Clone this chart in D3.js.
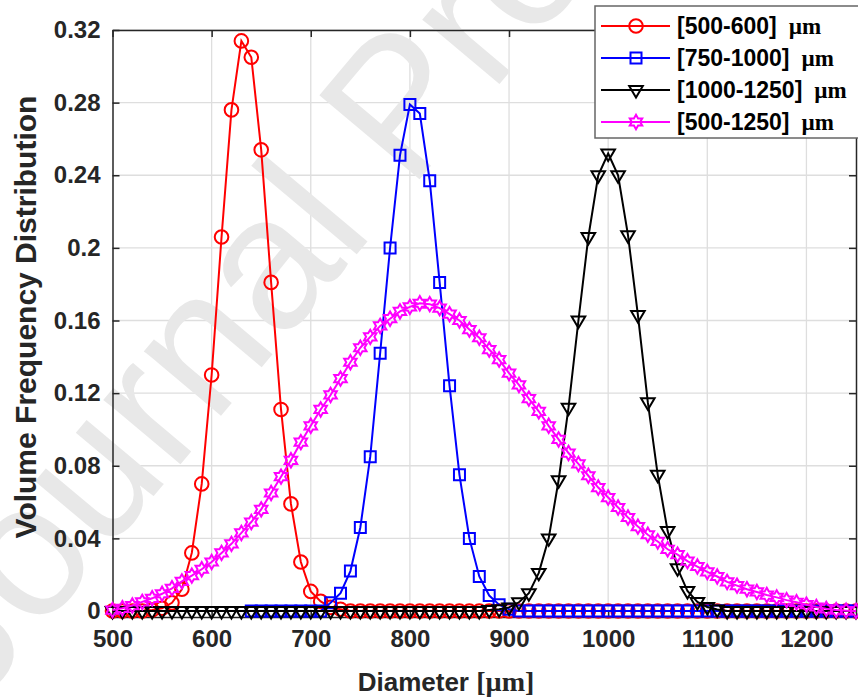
<!DOCTYPE html>
<html>
  <head>
    <meta charset="utf-8">
    <title>Volume frequency distribution</title>
    <script src="https://d3js.org/d3.v7.min.js"></script>
    <style>
      body { margin: 0; background: #fff; }
      svg text { font-family: "Liberation Sans", Arial, sans-serif; font-weight: bold; fill: #262626; }
      svg .serif { font-family: "Liberation Serif", "Times New Roman", serif; }
    </style>
  </head>
  <body>
    <svg id="chart" width="858" height="700"></svg>
    <script>
      // diameters (µm), one point every 10 µm
      const diameters = [
        500, 510, 520, 530, 540, 550, 560, 570, 580, 590,
        600, 610, 620, 630, 640, 650, 660, 670, 680, 690,
        700, 710, 720, 730, 740, 750, 760, 770, 780, 790,
        800, 810, 820, 830, 840, 850, 860, 870, 880, 890,
        900, 910, 920, 930, 940, 950, 960, 970, 980, 990,
        1000, 1010, 1020, 1030, 1040, 1050, 1060, 1070, 1080, 1090,
        1100, 1110, 1120, 1130, 1140, 1150, 1160, 1170, 1180, 1190,
        1200, 1210, 1220, 1230, 1240, 1250
      ];
      // [500-600] µm
      const red = [
        0, 0, 0, 0, 0.0005, 0.0015, 0.0045, 0.012, 0.032, 0.070,
        0.130, 0.206, 0.276, 0.314, 0.305, 0.254, 0.181, 0.111, 0.059, 0.027,
        0.0108, 0.0053, 0.002, 0.001, 0, 0, 0, 0, 0, 0,
        0, 0, 0, 0, 0, 0, 0, 0, 0, 0,
        0, 0, 0, 0, 0, 0, 0, 0, 0, 0,
        0, 0, 0, 0, 0, 0, 0, 0, 0, 0,
        0, 0, 0, 0, 0, 0, 0, 0, 0, 0,
        0, 0, 0, 0, 0, 0
      ];
      // [750-1000] µm (no points below 640)
      const blue = [
        null, null, null, null, null, null, null, null, null, null,
        null, null, null, null, 0, 0, 0, 0, 0, 0,
        0, 0, 0.0045, 0.0098, 0.022, 0.046, 0.085, 0.142, 0.200, 0.251,
        0.279, 0.274, 0.237, 0.181, 0.124, 0.075, 0.040, 0.019, 0.0085, 0.0035,
        0.001, 0, 0, 0, 0, 0, 0, 0, 0, 0,
        0, 0, 0, 0, 0, 0, 0, 0, 0, 0,
        0, 0, 0, 0, 0, 0, 0, 0, 0, 0,
        0, 0, 0, 0, 0, 0
      ];
      // [1000-1250] µm
      const black = [
        0, 0, 0, 0, 0, 0, 0, 0, 0, 0,
        0, 0, 0, 0, 0, 0, 0, 0, 0, 0,
        0, 0, 0, 0, 0, 0, 0, 0, 0, 0,
        0, 0, 0, 0, 0, 0, 0, 0, 0.0005, 0.001,
        0.002, 0.0048, 0.0098, 0.021, 0.040, 0.072, 0.112, 0.160, 0.206, 0.240,
        0.252, 0.240, 0.207, 0.163, 0.115, 0.075, 0.044, 0.0235, 0.011, 0.005,
        0.0022, 0.0008, 0, 0, 0, 0, 0, 0, 0, 0,
        0, 0, 0, 0, 0, 0
      ];
      // [500-1250] µm
      const magenta = [
        0.0005, 0.0015, 0.003, 0.005, 0.007, 0.0095, 0.0125, 0.0163, 0.0195, 0.023,
        0.027, 0.032, 0.037, 0.043, 0.049, 0.056, 0.065, 0.074, 0.083, 0.093,
        0.102, 0.111, 0.119, 0.128, 0.137, 0.145, 0.151, 0.157, 0.161, 0.165,
        0.1675, 0.1695, 0.169, 0.1668, 0.1635, 0.160, 0.155, 0.1505, 0.144, 0.1385,
        0.131, 0.1245, 0.117, 0.110, 0.102, 0.0945, 0.087, 0.081, 0.0745, 0.068,
        0.0625, 0.057, 0.0515, 0.0465, 0.042, 0.0383, 0.034, 0.031, 0.0275, 0.0245,
        0.0215, 0.019, 0.016, 0.014, 0.012, 0.0105, 0.0088, 0.0075, 0.006, 0.0048,
        0.0035, 0.0022, 0.0012, 0.0005, 0.0002, 0
      ];
      const seriesNames = ["[500-600]", "[750-1000]", "[1000-1250]", "[500-1250]"];
      const xTicks = [500, 600, 700, 800, 900, 1000, 1100, 1200];
      const yTicks = [0, 0.04, 0.08, 0.12, 0.16, 0.2, 0.24, 0.28, 0.32];
      const yTickLabels = ["0", "0.04", "0.08", "0.12", "0.16", "0.2", "0.24", "0.28", "0.32"];

      // marker shapes
      function hexagram(r) {
        let pts = [];
        for (let i = 0; i < 12; i++) {
          let a = -Math.PI / 2 + i * Math.PI / 6;
          let rr = i % 2 ? r / Math.sqrt(3) : r;
          pts.push([rr * Math.cos(a), rr * Math.sin(a)]);
        }
        return "M" + pts.join("L") + "Z";
      }
      const markers = {
        circle: "M6.8,0A6.8,6.8 0 1,1 -6.8,0A6.8,6.8 0 1,1 6.8,0Z",
        square: "M-5.5,-5.5H5.5V5.5H-5.5Z",
        triangle: "M-6.8,-4L6.8,-4L0,7.5Z",
        hexagram: hexagram(7.2)
      };
      const series = [
        { name: seriesNames[0], values: red, color: "#ff0000", marker: "circle" },
        { name: seriesNames[1], values: blue, color: "#0000ff", marker: "square" },
        { name: seriesNames[2], values: black, color: "#000000", marker: "triangle" },
        { name: seriesNames[3], values: magenta, color: "#ff00ff", marker: "hexagram" }
      ];

      const svg = d3.select("#chart");
      const margin = { left: 112.5, right: 856, top: 30, bottom: 617 };
      const x = d3.scaleLinear().domain([500, 1250]).range([margin.left, margin.right]);
      const y = d3.scaleLinear().domain([-0.0033, 0.32]).range([margin.bottom, margin.top]);

      svg.append("rect").attr("width", 858).attr("height", 700).attr("fill", "#fff");

      // grid
      const grid = svg.append("g").attr("stroke", "#dedede").attr("stroke-width", 1.3);
      grid.selectAll(".vx").data(xTicks.slice(1)).enter().append("line")
        .attr("x1", d => x(d)).attr("x2", d => x(d))
        .attr("y1", margin.top).attr("y2", margin.bottom);
      grid.selectAll(".hy").data(yTicks).enter().append("line")
        .attr("x1", margin.left).attr("x2", margin.right)
        .attr("y1", d => y(d)).attr("y2", d => y(d));

      // journal watermark
      svg.append("text")
        .attr("transform", "translate(-25,709) rotate(-50)")
        .style("font-weight", "normal")
        .style("font-size", "190px")
        .style("fill", "#e8e8e8")
        .text("Journal Pre-proof");

      // axes with inward ticks
      function styleAxis(g) {
        g.select(".domain").attr("stroke", "#262626").attr("stroke-width", 1.5);
        g.selectAll(".tick line").attr("stroke", "#262626").attr("stroke-width", 1.5);
        g.selectAll(".tick text").style("font-size", "24px").attr("fill", "#262626");
      }
      svg.append("g")
        .attr("transform", "translate(0," + margin.bottom + ")")
        .call(d3.axisBottom(x).tickValues(xTicks).tickFormat(d3.format("d"))
          .tickSizeInner(-7).tickSizeOuter(0).tickPadding(13))
        .call(styleAxis);
      svg.append("g")
        .attr("transform", "translate(" + margin.left + ",0)")
        .call(d3.axisLeft(y).tickValues(yTicks).tickFormat((d, i) => yTickLabels[i])
          .tickSizeInner(-7).tickSizeOuter(0).tickPadding(12))
        .call(styleAxis);
      svg.append("g")
        .attr("transform", "translate(0," + margin.top + ")")
        .call(d3.axisTop(x).tickValues(xTicks).tickFormat("")
          .tickSizeInner(-7).tickSizeOuter(0))
        .call(styleAxis);
      svg.append("g")
        .attr("transform", "translate(" + margin.right + ",0)")
        .call(d3.axisRight(y).tickValues(yTicks).tickFormat("")
          .tickSizeInner(-7).tickSizeOuter(0))
        .call(styleAxis);

      // series
      const line = d3.line()
        .defined(d => d[1] != null)
        .x(d => x(d[0]))
        .y(d => y(d[1]));
      series.forEach(function(s) {
        let pts = diameters.map((d, i) => [d, s.values[i]]);
        let g = svg.append("g");
        g.append("path")
          .datum(pts)
          .attr("d", line)
          .attr("fill", "none")
          .attr("stroke", s.color)
          .attr("stroke-width", 2);
        g.selectAll(".m")
          .data(pts.filter(d => d[1] != null))
          .enter().append("path")
            .attr("d", markers[s.marker])
            .attr("transform", d => "translate(" + x(d[0]) + "," + y(d[1]) + ")")
            .attr("fill", "none")
            .attr("stroke", s.color)
            .attr("stroke-width", 2);
      });

      // axis titles
      svg.append("text")
        .attr("x", 446).attr("y", 691)
        .attr("text-anchor", "middle")
        .style("font-size", "26px")
        .call(t => {
          t.append("tspan").text("Diameter ");
          t.append("tspan").attr("class", "serif").style("font-size", "28px").text("[\u00b5m]");
        });
      svg.append("text")
        .attr("transform", "translate(36,317) rotate(-90)")
        .attr("text-anchor", "middle")
        .style("font-size", "30px")
        .text("Volume Frequency Distribution");

      // legend
      const legend = svg.append("g");
      legend.append("rect")
        .attr("x", 595).attr("y", 6).attr("width", 290).attr("height", 132)
        .attr("fill", "#fff").attr("stroke", "#666").attr("stroke-width", 1.5);
      series.forEach(function(s, i) {
        let ly = 26 + i * 32;
        legend.append("line")
          .attr("x1", 601).attr("x2", 670).attr("y1", ly).attr("y2", ly)
          .attr("stroke", s.color).attr("stroke-width", 2);
        legend.append("path")
          .attr("d", markers[s.marker])
          .attr("transform", "translate(636," + ly + ")")
          .attr("fill", "none").attr("stroke", s.color).attr("stroke-width", 2);
        let t = legend.append("text")
          .attr("x", 677).attr("y", ly + 8)
          .style("font-size", "23px")
          .style("fill", "#000");
        t.append("tspan").text(s.name);
        t.append("tspan").attr("class", "serif").attr("dx", 12)
          .style("font-size", "23px").text("\u00b5m");
      });
    </script>
  </body>
</html>
